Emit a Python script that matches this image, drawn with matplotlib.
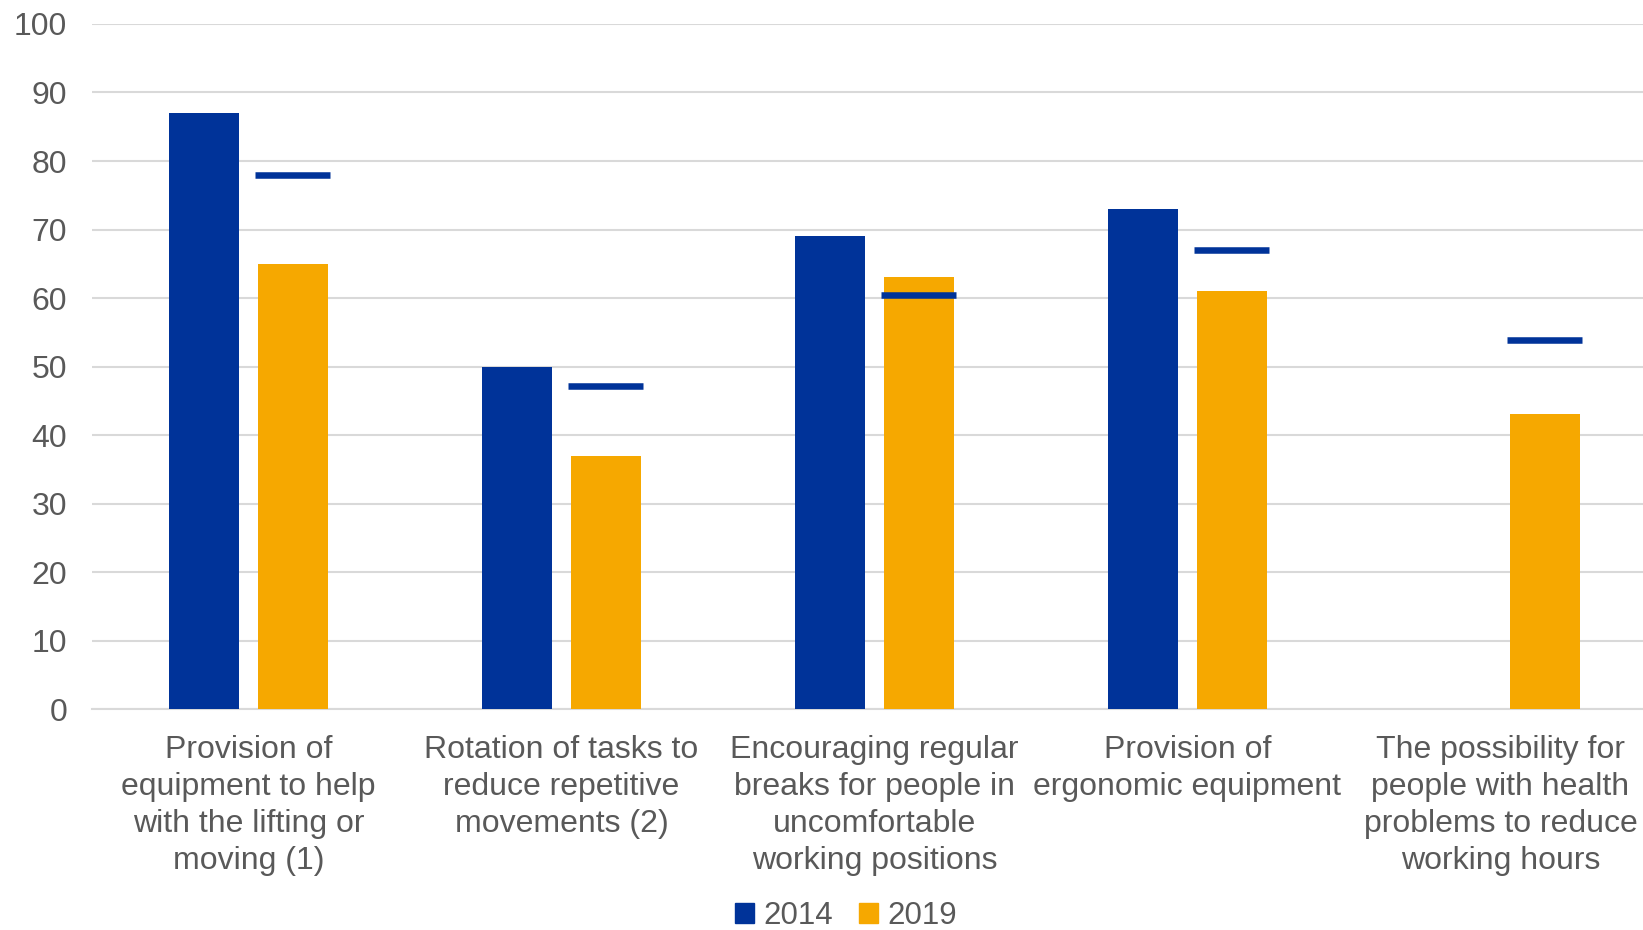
import numpy as np
import matplotlib.pyplot as plt
from matplotlib.patches import Patch

plt.rcParams["font.family"] = ["Liberation Sans", "DejaVu Sans"]

# Datos
categorias = [
    "Provision of\nequipment to help\nwith the lifting or\nmoving (1)",
    "Rotation of tasks to\nreduce repetitive\nmovements (2)",
    "Encouraging regular\nbreaks for people in\nuncomfortable\nworking positions",
    "Provision of\nergonomic equipment",
    "The possibility for\npeople with health\nproblems to reduce\nworking hours",
]
valores_2014 = [87, 50, 69, 73, np.nan]
valores_2019 = [65, 37, 63, 61, 43]
marcas = [78, 47.2, 60.5, 67, 53.8]

AZUL = "#003399"
NARANJA = "#F6A800"
GRIS_TEXTO = "#595959"
GRIS_REJILLA = "#D9D9D9"

fig = plt.figure(figsize=(16.43, 9.30), dpi=100)
ax = fig.add_axes([0.056, 0.2376, 0.9525, 0.7366])

x = np.arange(len(categorias))
ancho = 0.224
desp = 0.142

ax.bar(x - desp, valores_2014, width=ancho, color=AZUL, zorder=3)
ax.bar(x + desp, valores_2019, width=ancho, color=NARANJA, zorder=3)

# Marcas horizontales
media = ancho * 1.07 / 2
ax.hlines(marcas, x + desp - media, x + desp + media, colors=AZUL,
          linewidth=4.7, capstyle="butt", zorder=4)

ax.set_xlim(-0.5, len(categorias) - 0.5)
ax.set_ylim(0, 100)
ax.set_yticks(np.arange(0, 101, 10))
ax.set_xticks(x)
ax.set_xticklabels(categorias, fontsize=23, color=GRIS_TEXTO, linespacing=1.3)

ax.tick_params(axis="y", length=0, pad=18, labelsize=23, labelcolor=GRIS_TEXTO)
ax.tick_params(axis="x", length=0, pad=19)

ax.grid(axis="y", color=GRIS_REJILLA, linewidth=1.5, zorder=0)
for lado in ["left", "right", "top"]:
    ax.spines[lado].set_visible(False)
ax.spines["bottom"].set_color(GRIS_REJILLA)
ax.spines["bottom"].set_linewidth(1.5)

leyenda = [
    Patch(color=AZUL, label="2014"),
    Patch(color=NARANJA, label="2019"),
]
fig.legend(handles=leyenda, loc="center", bbox_to_anchor=(0.515, 1 - 916 / 930),
           ncol=2, frameon=False, fontsize=22.5, labelcolor=GRIS_TEXTO,
           handlelength=0.6, handleheight=0.6, handletextpad=0.3,
           columnspacing=0.85, borderaxespad=0, borderpad=0)

fig.savefig("out.png", dpi=100, facecolor="white")
